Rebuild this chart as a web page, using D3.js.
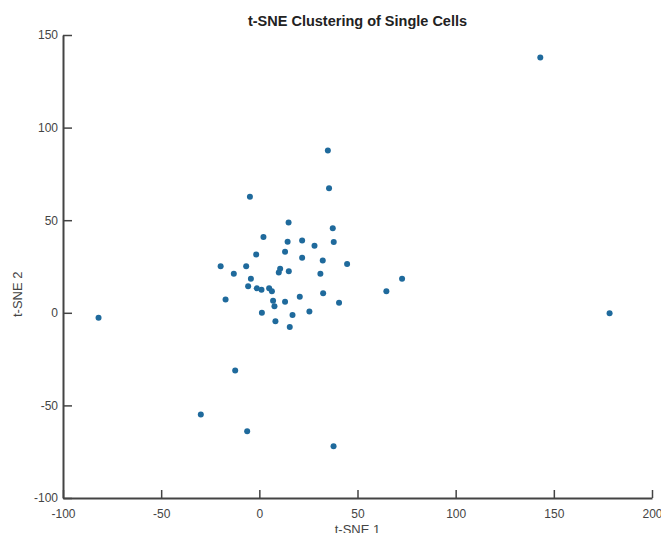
<!DOCTYPE html>
<html>
<head>
<meta charset="utf-8">
<script src="https://cdn.jsdelivr.net/npm/d3@7"></script>
<style>
  body { margin: 0; background: #fff; }
  svg { font-family: "Liberation Sans", Arial, sans-serif; }
  .axis path, .axis line { stroke: #444; }
  .axis path { stroke-width: 2; }
  .axis line { stroke-width: 1.5; }
  .axis text { fill: #444; font-size: 12px; }
</style>
</head>
<body>
<div id="chart"></div>
<script>
// t-SNE coordinates
const tsne1 = [
  34.9, 35.5, -4.8, 14.9, 37.4, 2.1, 14.4, 21.8, 37.9, 28.1,
  -1.6, 13.1, 21.8, 32.3, 44.7, -19.7, -6.7, -13.0, 10.6, 9.9,
  15.0, 31.1, -4.3, -5.7, -1.3, 1.1, 5.0, 6.4, 32.5, -17.2,
  7.0, 13.1, 20.6, 40.6, 7.7, 1.3, 16.9, 25.5, 8.2, 15.5,
  72.7, 64.7, -12.3, -29.8, -6.2, 37.8, 143.1, 178.4, -81.9
];
const tsne2 = [
  87.7, 67.2, 62.6, 48.8, 45.6, 40.9, 38.3, 39.1, 38.2, 36.2,
  31.5, 32.9, 29.7, 28.3, 26.3, 25.1, 25.1, 21.1, 23.8, 21.8,
  22.4, 21.1, 18.4, 14.4, 13.2, 12.4, 13.2, 11.7, 10.5, 7.2,
  6.5, 5.9, 8.6, 5.4, 3.6, 0.0, -1.2, 0.7, -4.5, -7.7,
  18.4, 11.7, -31.1, -54.9, -64.0, -72.0, 137.9, -0.2, -2.7
];
const xTicks = [-100, -50, 0, 50, 100, 150, 200];
const yTicks = [-100, -50, 0, 50, 100, 150];

const width = 661, height = 533;
const margin = {top: 35, right: 9, bottom: 35, left: 63};

const svg = d3.select("#chart").append("svg")
  .attr("width", width)
  .attr("height", height);

const x = d3.scaleLinear()
  .domain([-100, 200])
  .range([margin.left, width - margin.right]);

const y = d3.scaleLinear()
  .domain([-100, 150])
  .range([height - margin.bottom, margin.top]);

// plain hyphen for negatives, like the original
const fmt = d => String(d);

// axes, ticks pointing inward
svg.append("g")
  .attr("class", "axis")
  .attr("transform", "translate(0," + y(-100) + ")")
  .call(d3.axisBottom(x).tickValues(xTicks).tickFormat(fmt)
    .tickSize(-8).tickSizeOuter(0).tickPadding(11));

svg.append("g")
  .attr("class", "axis")
  .attr("transform", "translate(" + x(-100) + ",0)")
  .call(d3.axisLeft(y).tickValues(yTicks).tickFormat(fmt)
    .tickSize(-9).tickSizeOuter(0).tickPadding(5));

// points
const points = tsne1.map((d, i) => ({x: d, y: tsne2[i]}));

svg.append("g")
  .selectAll("circle")
  .data(points)
  .enter().append("circle")
    .attr("cx", d => x(d.x))
    .attr("cy", d => y(d.y))
    .attr("r", 3)
    .attr("fill", "#1f6a9c");

// title and labels
svg.append("text")
  .attr("x", (margin.left + width - margin.right) / 2)
  .attr("y", 26)
  .attr("text-anchor", "middle")
  .style("font-size", "14.5px")
  .style("font-weight", "bold")
  .style("fill", "#222")
  .text("t-SNE Clustering of Single Cells");

svg.append("text")
  .attr("x", (margin.left + width - margin.right) / 2)
  .attr("y", 534)
  .attr("text-anchor", "middle")
  .style("font-size", "13px")
  .style("fill", "#444")
  .text("t-SNE 1");

svg.append("text")
  .attr("transform", "translate(22," + y(10) + ") rotate(-90)")
  .attr("text-anchor", "middle")
  .style("font-size", "13px")
  .style("fill", "#444")
  .text("t-SNE 2");
</script>
</body>
</html>
